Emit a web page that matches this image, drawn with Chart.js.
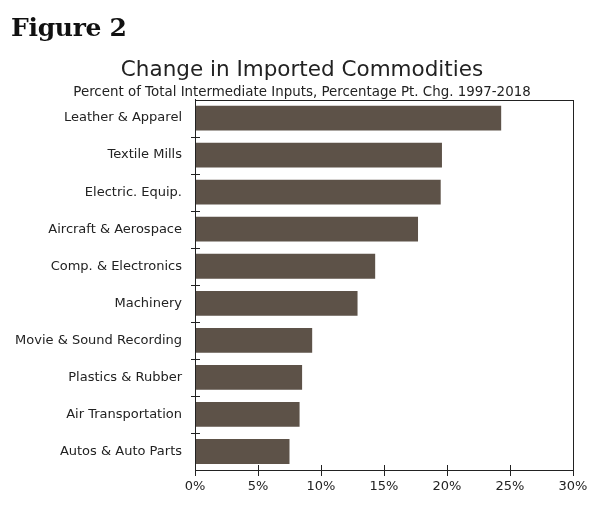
<!DOCTYPE html>
<html>
<head>
<meta charset="utf-8">
<script src="https://cdn.jsdelivr.net/npm/chart.js@4"></script>
<style>
  html, body { margin: 0; padding: 0; background: #ffffff; }
  #wrap { position: relative; width: 600px; height: 508px; }
  #fig { position: absolute; left: 11px; top: 13px; font-family: "DejaVu Serif", serif; font-weight: bold; font-size: 25px; color: #111; letter-spacing: -0.3px; }
  canvas { position: absolute; left: 0; top: 0; }
</style>
</head>
<body>
<div id="wrap">
  <canvas id="c" width="600" height="508"></canvas>
  <div id="fig">Figure 2</div>
</div>
<script>
const categories = [
  "Leather & Apparel",
  "Textile Mills",
  "Electric. Equip.",
  "Aircraft & Aerospace",
  "Comp. & Electronics",
  "Machinery",
  "Movie & Sound Recording",
  "Plastics & Rubber",
  "Air Transportation",
  "Autos & Auto Parts"
];
const changePct = [24.3, 19.6, 19.5, 17.7, 14.3, 12.9, 9.3, 8.5, 8.3, 7.5];
const xTicks = [0, 5, 10, 15, 20, 25, 30];

const TEXT = "#222222";
const BAR = "#5d5248";

const crossTicks = {
  id: "crossTicks",
  afterDraw(chart) {
    const ctx = chart.ctx;
    const a = chart.chartArea;
    const xs = chart.scales.x, ys = chart.scales.y;
    ctx.save();
    ctx.strokeStyle = TEXT;
    ctx.lineWidth = 1;
    ctx.strokeRect(Math.round(a.left) + 0.5, Math.round(a.top) + 0.5, Math.round(a.right - a.left), Math.round(a.bottom - a.top));
    ctx.beginPath();
    xTicks.forEach(v => {
      const px = Math.round(xs.getPixelForValue(v)) + 0.5;
      ctx.moveTo(px, a.bottom - 5);
      ctx.lineTo(px, a.bottom + 6);
    });
    for (let i = 0; i < categories.length - 1; i++) {
      const py = Math.round((ys.getPixelForValue(i) + ys.getPixelForValue(i + 1)) / 2) + 0.5;
      ctx.moveTo(a.left - 4, py);
      ctx.lineTo(a.left + 5, py);
    }
    ctx.stroke();
    ctx.restore();
  }
};

new Chart(document.getElementById("c"), {
  type: "bar",
  data: {
    labels: categories,
    datasets: [{
      data: changePct,
      backgroundColor: BAR,
      borderWidth: 0,
      categoryPercentage: 1,
      barPercentage: 0.67
    }]
  },
  options: {
    indexAxis: "y",
    responsive: false,
    animation: false,
    layout: { padding: { left: 4, right: 0, top: 0, bottom: 0 } },
    plugins: {
      legend: { display: false },
      tooltip: { enabled: false },
      title: {
        display: true,
        text: "Change in Imported Commodities",
        color: TEXT,
        font: { family: "DejaVu Sans", size: 21.5, weight: "normal", lineHeight: 1.2 },
        padding: { top: 58, bottom: 0 }
      },
      subtitle: {
        display: true,
        text: "Percent of Total Intermediate Inputs, Percentage Pt. Chg. 1997-2018",
        color: TEXT,
        font: { family: "DejaVu Sans", size: 13.4, weight: "normal", lineHeight: 1.1 },
        padding: { top: 1, bottom: 0 }
      }
    },
    scales: {
      x: {
        type: "linear",
        min: 0,
        max: 30,
        afterBuildTicks(scale) { scale.ticks = xTicks.map(v => ({ value: v })); },
        afterFit(scale) { scale.height = 38; },
        grid: { display: false, drawTicks: false },
        border: { display: true, color: TEXT, width: 1 },
        ticks: {
          color: TEXT,
          padding: 9,
          font: { family: "DejaVu Sans", size: 13 },
          callback: v => v + "%",
          maxRotation: 0
        }
      },
      y: {
        afterFit(scale) { scale.width = 191; },
        grid: { display: false, drawTicks: false },
        border: { display: true, color: TEXT, width: 1 },
        ticks: {
          color: TEXT,
          padding: 13,
          font: { family: "DejaVu Sans", size: 13 },
          autoSkip: false
        }
      },
      yRightSpace: {
        type: "linear",
        position: "right",
        display: true,
        afterFit(scale) { scale.width = 27; },
        grid: { display: false, drawTicks: false },
        border: { display: false },
        ticks: { display: false }
      }
    }
  },
  plugins: [crossTicks]
});
</script>
</body>
</html>
